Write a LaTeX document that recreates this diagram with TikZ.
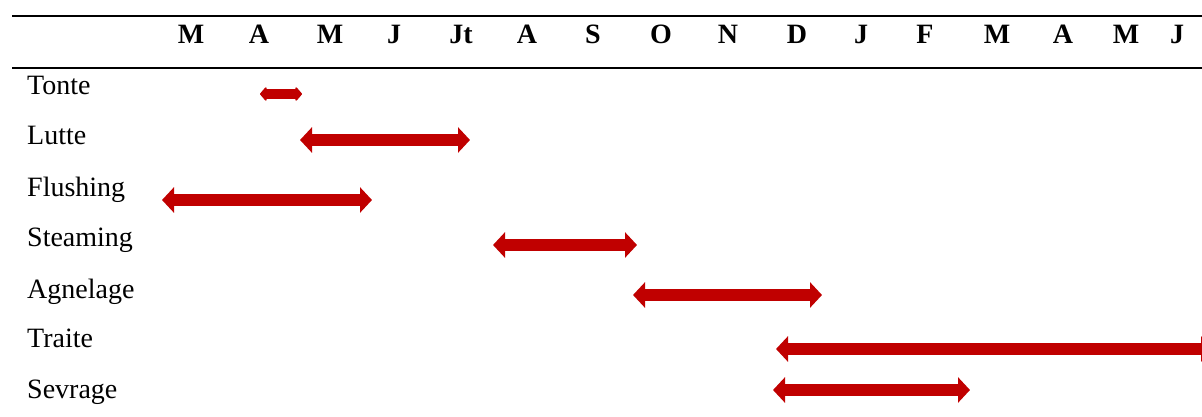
\documentclass[tikz,border=0pt]{standalone}
\usepackage{fontspec}
\setmainfont{Liberation Serif}
\usetikzlibrary{arrows.meta}
\definecolor{barred}{HTML}{C00000}
\tikzset{
  month/.style={anchor=base,font=\fontsize{28}{30}\selectfont\bfseries,inner sep=0pt},
  task/.style={anchor=base west,font=\fontsize{28}{30}\selectfont,inner sep=0pt},
  rule/.style={line width=2pt,black},
  period/.style={barred,line width=12pt,{Triangle[length=12pt,width=25pt]}-{Triangle[length=12pt,width=25pt]}},
  shortperiod/.style={barred,line width=10pt,{Triangle[length=7pt,width=16pt,round]}-{Triangle[length=7pt,width=16pt,round]}}
}
\begin{document}
\begin{tikzpicture}[x=1pt,y=-1pt]
\useasboundingbox (0,0) rectangle (1202,417);
\clip (0,0) rectangle (1202,417);
\draw[rule] (12,16) -- (1202,16);
\draw[rule] (12,68) -- (1202,68);
% months
\node[month] (m1) at (191,44) {M};
\node[month] (m2) at (259,44) {A};
\node[month] (m3) at (330,44) {M};
\node[month] (m4) at (394,44) {J};
\node[month] (m5) at (461,44) {Jt};
\node[month] (m6) at (527,44) {A};
\node[month] (m7) at (593,44) {S};
\node[month] (m8) at (661,44) {O};
\node[month] (m9) at (728,44) {N};
\node[month] (m10) at (797,44) {D};
\node[month] (m11) at (861,44) {J};
\node[month] (m12) at (925,44) {F};
\node[month] (m13) at (997,44) {M};
\node[month] (m14) at (1063,44) {A};
\node[month] (m15) at (1126,44) {M};
\node[month] (m16) at (1177,44) {J};
% tasks
\node[task] (t1) at (27,95) {Tonte};
\node[task] (t2) at (27,145) {Lutte};
\node[task] (t3) at (27,196) {Flushing};
\node[task] (t4) at (27,246) {Steaming};
\node[task] (t5) at (27,298) {Agnelage};
\node[task] (t6) at (27,347) {Traite};
\node[task] (t7) at (27,398) {Sevrage};
% periods
\coordinate (a1) at (260,94);  \coordinate (b1) at (302,94);
\coordinate (a2) at (300,140); \coordinate (b2) at (470,140);
\coordinate (a3) at (162,200); \coordinate (b3) at (372,200);
\coordinate (a4) at (493,245); \coordinate (b4) at (637,245);
\coordinate (a5) at (633,295); \coordinate (b5) at (822,295);
\coordinate (a6) at (776,349); \coordinate (b6) at (1213,349);
\coordinate (a7) at (773,390); \coordinate (b7) at (970,390);
\draw[shortperiod] (a1) -- (b1);
\draw[period] (a2) -- (b2);
\draw[period] (a3) -- (b3);
\draw[period] (a4) -- (b4);
\draw[period] (a5) -- (b5);
\draw[period] (a6) -- (b6);
\draw[period] (a7) -- (b7);
\end{tikzpicture}
\end{document}
